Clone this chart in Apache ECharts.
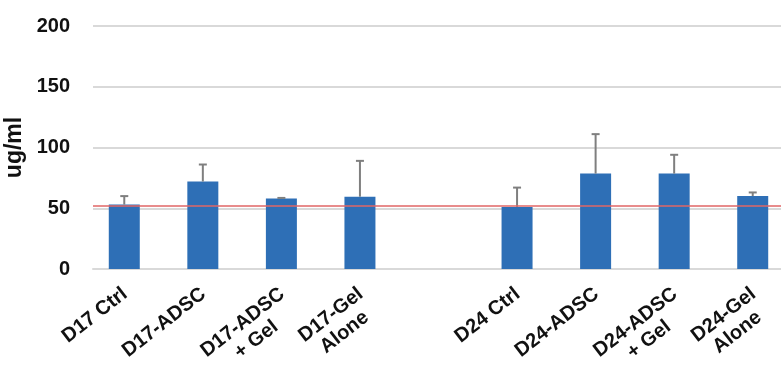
<!DOCTYPE html>
<html>
<head>
<meta charset="utf-8">
<script src="https://cdn.jsdelivr.net/npm/echarts@6/dist/echarts.min.js"></script>
<style>
html,body{margin:0;padding:0;background:#fff;}
#chart{width:781px;height:374px;}
</style>
</head>
<body>
<div id="chart"></div>
<script>
const categories = ['D17 Ctrl', 'D17-ADSC', 'D17-ADSC\n+ Gel', 'D17-Gel\nAlone', '', 'D24 Ctrl', 'D24-ADSC', 'D24-ADSC\n+ Gel', 'D24-Gel\nAlone'];
const means = [53, 72, 58, 59.5, null, 51, 78.5, 78.5, 60];
const sds = [7, 14, 0.5, 29.5, null, 16, 32.5, 15.5, 3];
const yTicks = [0, 50, 100, 150, 200];
const refValue = 52;
const yAxisName = 'ug/ml';

const errData = [];
categories.forEach((c, i) => {
  if (means[i] != null) errData.push([i, means[i], means[i] + sds[i]]);
});

const font = '"Liberation Sans", Arial, sans-serif';
const yMin = yTicks[0], yMax = yTicks[yTicks.length - 1];
const chart = echarts.init(document.getElementById('chart'), null, {renderer: 'canvas'});
chart.setOption({
  animation: false,
  backgroundColor: '#ffffff',
  grid: [
    {left: 85, right: -11, top: 26, bottom: 105, containLabel: false, outerBoundsMode: 'none'},
    {left: 93, right: -11, top: 26, bottom: 105, containLabel: false, outerBoundsMode: 'none'},
    {left: 79, right: -5, top: 26, bottom: 105, containLabel: false, outerBoundsMode: 'none'}
  ],
  xAxis: [
    {
      type: 'category',
      gridIndex: 0,
      data: categories,
      axisLine: {show: false},
      axisTick: {show: false},
      axisLabel: {show: false}
    },
    {
      type: 'category',
      gridIndex: 1,
      data: categories,
      axisLine: {show: true, lineStyle: {color: '#d9d9d9', width: 2}},
      axisTick: {show: false},
      axisLabel: {show: false}
    },
    {
      type: 'category',
      gridIndex: 2,
      data: categories,
      axisLine: {show: false},
      axisTick: {show: false},
      axisLabel: {
        interval: 0,
        rotate: 38,
        margin: 14,
        align: 'right',
        verticalAlign: 'top',
        formatter: function (v) {
          return v.split('\n').map(s => '{c|' + s + '}').join('\n');
        },
        rich: {
          c: {align: 'center', color: '#111', fontFamily: font, fontWeight: 'bold', fontSize: 20, lineHeight: 22}
        }
      }
    }
  ],
  yAxis: [
    {
      type: 'value',
      gridIndex: 0,
      min: yMin, max: yMax, interval: 50,
      show: false,
      splitLine: {show: false}
    },
    {
      type: 'value',
      gridIndex: 1,
      min: yMin, max: yMax, interval: 50,
      name: yAxisName,
      nameLocation: 'middle',
      nameRotate: 90,
      nameGap: 59,
      nameTextStyle: {color: '#111', fontFamily: font, fontWeight: 'bold', fontSize: 23},
      axisLine: {show: false},
      axisTick: {show: false},
      axisLabel: {margin: 23, color: '#111', fontFamily: font, fontWeight: 'bold', fontSize: 20},
      splitLine: {lineStyle: {color: '#d9d9d9', width: 2}}
    },
    {
      type: 'value',
      gridIndex: 2,
      min: yMin, max: yMax, interval: 50,
      show: false,
      splitLine: {show: false}
    }
  ],
  series: [
    {
      type: 'line',
      xAxisIndex: 1,
      yAxisIndex: 1,
      data: [],
      markLine: {
        silent: true,
        symbol: 'none',
        label: {show: false},
        lineStyle: {color: '#e06666', width: 1.5, type: 'solid'},
        data: [{yAxis: refValue}]
      },
      z: 4
    },
    {
      type: 'bar',
      xAxisIndex: 0,
      yAxisIndex: 0,
      data: means,
      barWidth: 31,
      itemStyle: {color: '#2e6fb6'},
      z: 2
    },
    {
      type: 'custom',
      xAxisIndex: 0,
      yAxisIndex: 0,
      data: errData,
      encode: {x: 0, y: [1, 2]},
      z: 3,
      renderItem: function (params, api) {
        const x = api.value(0);
        const lo = api.coord([x, api.value(1)]);
        const hi = api.coord([x, api.value(2)]);
        const cap = 4;
        const style = {stroke: '#7f7f7f', lineWidth: 2};
        return {
          type: 'group',
          children: [
            {type: 'line', shape: {x1: lo[0], y1: lo[1], x2: hi[0], y2: hi[1]}, style: style},
            {type: 'line', shape: {x1: hi[0] - cap, y1: hi[1], x2: hi[0] + cap, y2: hi[1]}, style: style}
          ]
        };
      }
    }
  ]
});
</script>
</body>
</html>
